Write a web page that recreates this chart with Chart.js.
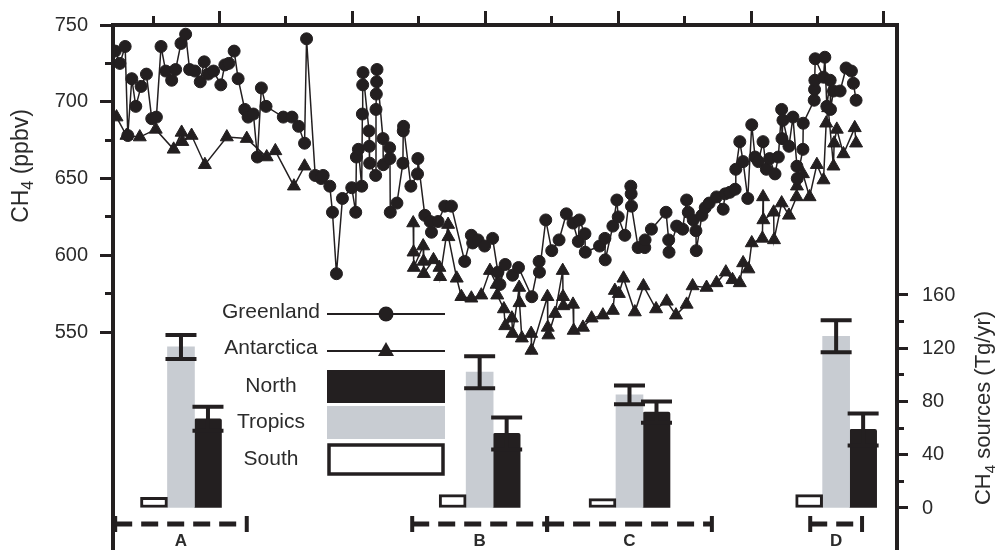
<!DOCTYPE html>
<html lang="en">
<head>
<meta charset="UTF-8">
<title>Holocene CH4</title>
<script src="https://cdn.jsdelivr.net/npm/chart.js"></script>
<style>
  html, body { margin: 0; padding: 0; background: #fff; }
</style>
</head>
<body>
<canvas id="grafico" width="999" height="550"></canvas>
<script>
// Greenland ice core record: age (kyr BP) and CH4 (ppbv)
const greenlandAge = [11.57, 11.50, 11.42, 11.38, 11.32, 11.26, 11.18, 11.10, 11.02, 10.95,
  10.88, 10.81, 10.72, 10.66, 10.58, 10.51, 10.45, 10.37, 10.29, 10.23,
  10.17, 10.09, 9.98, 9.92, 9.86, 9.78, 9.72, 9.62, 9.57, 9.49,
  9.43, 9.37, 9.30, 9.04, 8.91, 8.81, 8.72, 8.69, 8.56, 8.47,
  8.44, 8.34, 8.30, 8.24, 8.15, 8.01, 7.95, 7.94, 7.91, 7.86,
  7.85, 7.845, 7.84, 7.75, 7.745, 7.74, 7.65, 7.645, 7.64, 7.635,
  7.63, 7.54, 7.535, 7.44, 7.435, 7.43, 7.33, 7.24, 7.235, 7.23,
  7.12, 7.02, 7.015, 6.91, 6.83, 6.81, 6.71, 6.61, 6.51, 6.31,
  6.21, 6.19, 6.11, 6.01, 5.89, 5.81, 5.78, 5.70, 5.59, 5.50,
  5.30, 5.19, 5.185, 5.09, 5.00, 4.89, 4.78, 4.68, 4.60, 4.585,
  4.50, 4.495, 4.28, 4.20, 4.195, 4.08, 4.02, 4.00, 3.90, 3.81,
  3.805, 3.80, 3.70, 3.60, 3.595, 3.50, 3.28, 3.24, 3.235, 3.12,
  3.03, 2.97, 2.945, 2.87, 2.83, 2.825, 2.74, 2.69, 2.63, 2.52,
  2.42, 2.39, 2.32, 2.24, 2.23, 2.17, 2.12, 2.05, 1.99, 1.94,
  1.89, 1.82, 1.77, 1.72, 1.64, 1.59, 1.54, 1.535, 1.52, 1.43,
  1.37, 1.31, 1.305, 1.22, 1.215, 1.05, 1.045, 1.04, 1.035, 0.91,
  0.89, 0.86, 0.81, 0.805, 0.76, 0.66, 0.57, 0.49, 0.46, 0.42];
const greenlandCH4 = [733, 725, 736, 678, 715, 697, 710, 718, 689, 690,
  736, 720, 714, 721, 738, 744, 721, 720, 713, 726,
  718, 720, 711, 724, 725, 733, 715, 695, 690, 692,
  664, 709, 697, 690, 690, 684, 673, 741, 652, 650,
  652, 645, 628, 588, 637, 644, 628, 664, 669, 645,
  692, 711, 719, 681, 671, 660, 652, 695, 705, 713,
  721, 676, 659, 670, 663, 628, 634, 660, 681, 684,
  645, 653, 663, 626, 622, 615, 622, 632, 632, 596,
  613, 608, 610, 606, 611, 589, 581, 594, 587, 592,
  573, 596, 589, 623, 603, 610, 627, 621, 609, 623,
  614, 602, 606, 611, 597, 619, 636, 625, 613, 645,
  640, 632, 605, 605, 610, 617, 628, 610, 602, 619,
  617, 636, 628, 623, 616, 603, 626, 631, 634, 638,
  630, 640, 641, 643, 656, 674, 661, 637, 685, 664,
  661, 674, 656, 663, 653, 664, 695, 676, 688, 671,
  690, 658, 650, 669, 686, 701, 708, 714, 728, 716,
  729, 697, 714, 695, 707, 707, 722, 720, 712, 701];

// Antarctic ice core record (null = gap in the record)
const antarcticaAge = [11.55, 11.40, 11.20, 10.96, 10.69, 10.57, 10.56, 10.42, 10.22, 9.89,
  9.59, 9.29, 9.16, 8.88, 8.72, 8.00, 7.085, 7.08, 7.075, 6.935,
  6.93, 6.925, 6.78, 6.69, 6.68, 6.56, 6.555, 6.43, 6.36, 6.21,
  6.06, 5.93, 5.83, 5.82, 5.72, 5.70, 5.60, 5.59, 5.49, 5.485,
  5.45, 5.31, 5.305, 5.065, 5.06, 5.05, 4.95, 4.835, 4.83, 4.825,
  4.68, 4.67, 4.53, 4.40, 4.23, 4.08, 4.05, 3.99, 3.92, 3.75,
  3.62, 3.43, 3.27, 3.13, 2.97, 2.88, 2.67, 2.52, 2.38, 2.28,
  2.17, 2.12, 2.04, 1.99, 1.83, 1.82, 1.815, 1.66, 1.655, 1.54,
  1.43, 1.315, 1.31, 1.22, 1.12, 1.01, 0.91, 0.87, 0.84, 0.76,
  0.75, 0.71, 0.61, 0.44, 0.42];
const antarcticaCH4 = [690, 678, 677, 682, 669, 680, 674, 678, 659, 677,
  676, 664, 668, 645, 658, null, 621, 602, 592, 606,
  596, 588, 597, 592, 586, 620, 612, 585, 573, 572,
  574, 590, 581, 574, 565, 554, 559, 549, 579, 569,
  546, 549, 538, 573, 553, 548, 562, 590, 573, 567,
  568, 551, 553, 559, 561, 564, 577, 575, 585, 563,
  580, 565, 570, 561, 568, 580, 579, 582, 589, 584,
  582, 595, 591, 608, 611, 638, 623, 628, 610, 634,
  626, 638, 645, 653, 638, 659, 649, 686, 696, 658,
  673, 682, 666, 683, 673];

// Source budget intervals (kyr BP) and emissions (Tg/yr)
const intervalNames = ['A', 'B', 'C', 'D'];
const intervalStart = [11.57, 7.10, 5.07, 1.11];
const intervalEnd = [9.59, 5.07, 2.59, 0.33];
const southSource = [8, 10, 7, 10];
const tropicsSource = [121, 102, 85, 129];
const tropicsError = [9, 12, 7, 12];
const northSource = [67, 56, 72, 59];
const northError = [9, 12, 8, 12];

// Axis ticks
const ageTicks = [0, 1, 2, 3, 4, 5, 6, 7, 8, 9, 10, 11];
const ch4Ticks = [550, 575, 600, 625, 650, 675, 700, 725, 750];
const sourceTicks = [0, 20, 40, 60, 80, 100, 120, 140, 160];

const ink = '#231f20';
const grey = '#c8ccd2';
const textColor = '#2b2b2b';
const family = '"Liberation Sans", Arial, Helvetica, sans-serif';
const intervalLevel = -12;

const intervalMid = intervalStart.map((s, i) => (s + intervalEnd[i]) / 2);
const pairs = (xs, ys) => xs.map((x, i) => ({x: x, y: ys[i]}));

// error bars on the source bars
const errorBars = {
  id: 'errorBars',
  afterDatasetsDraw(chart) {
    const ctx = chart.ctx;
    const y2 = chart.scales.y2;
    chart.data.datasets.forEach((ds, i) => {
      if (!ds.errors) return;
      chart.getDatasetMeta(i).data.forEach((bar, j) => {
        const v = ds.data[j].y;
        const hi = y2.getPixelForValue(v + ds.errors[j]);
        const lo = y2.getPixelForValue(v - ds.errors[j]);
        const half = bar.width / 2 + 2;
        ctx.save();
        ctx.strokeStyle = ink;
        ctx.lineWidth = 4;
        ctx.beginPath();
        ctx.moveTo(bar.x, hi); ctx.lineTo(bar.x, lo);
        ctx.moveTo(bar.x - half, hi); ctx.lineTo(bar.x + half, hi);
        ctx.moveTo(bar.x - half, lo); ctx.lineTo(bar.x + half, lo);
        ctx.stroke();
        ctx.restore();
      });
    });
  }
};

// legend, interval letters and axis titles
function subTitle(ctx, cx, cy, main, sub, rest, size) {
  ctx.save();
  ctx.translate(cx, cy);
  ctx.rotate(-Math.PI / 2);
  ctx.fillStyle = textColor;
  ctx.textBaseline = 'middle';
  ctx.textAlign = 'left';
  ctx.font = size + 'px ' + family;
  const w1 = ctx.measureText(main).width;
  const w3 = ctx.measureText(rest).width;
  ctx.font = Math.round(size * 0.7) + 'px ' + family;
  const w2 = ctx.measureText(sub).width;
  let x = -(w1 + w2 + w3) / 2;
  ctx.font = size + 'px ' + family;
  ctx.fillText(main, x, 0);
  x += w1;
  ctx.font = Math.round(size * 0.7) + 'px ' + family;
  ctx.fillText(sub, x, size * 0.3);
  x += w2;
  ctx.font = size + 'px ' + family;
  ctx.fillText(rest, x, 0);
  ctx.restore();
}

const decorations = {
  id: 'decorations',
  afterDraw(chart) {
    const ctx = chart.ctx;
    const xs = chart.scales.x;
    ctx.save();

    // interval letters
    ctx.fillStyle = textColor;
    ctx.font = 'bold 17px ' + family;
    ctx.textAlign = 'center';
    ctx.textBaseline = 'middle';
    intervalNames.forEach((n, i) => ctx.fillText(n, xs.getPixelForValue(intervalMid[i]), 541));

    // legend
    const cx = 271, x0 = 327, x1 = 445, mx = 386;
    ctx.font = '21px ' + family;
    const names = chart.data.datasets.map(d => d.label);
    ctx.fillText(names[0], cx, 312);
    ctx.fillText(names[1], cx, 348);
    ctx.fillText(names[4], cx, 386);
    ctx.fillText(names[3], cx, 422);
    ctx.fillText(names[2], cx, 459);

    ctx.strokeStyle = ink;
    ctx.fillStyle = ink;
    ctx.lineWidth = 2;
    ctx.beginPath();
    ctx.moveTo(x0, 314); ctx.lineTo(x1, 314);
    ctx.moveTo(x0, 351); ctx.lineTo(x1, 351);
    ctx.stroke();
    ctx.beginPath();
    ctx.arc(mx, 314, 7.5, 0, Math.PI * 2);
    ctx.fill();
    ctx.beginPath();
    ctx.moveTo(mx, 342); ctx.lineTo(mx + 8, 356); ctx.lineTo(mx - 8, 356);
    ctx.closePath();
    ctx.fill();

    ctx.fillRect(x0, 370, x1 - x0, 33);
    ctx.fillStyle = grey;
    ctx.fillRect(x0, 406, x1 - x0, 33);
    ctx.lineWidth = 3.5;
    ctx.strokeRect(x0 + 2, 445, x1 - x0 - 4, 29);
    ctx.restore();

    subTitle(ctx, 22, 166, 'CH', '4', ' (ppbv)', 23);
    subTitle(ctx, 984, 408, 'CH', '4', ' sources (Tg/yr)', 22);
  }
};

const datasets = [
  {
    type: 'line', label: 'Greenland', data: pairs(greenlandAge, greenlandCH4),
    yAxisID: 'y', borderColor: ink, borderWidth: 1.5,
    pointStyle: 'circle', pointRadius: 6, pointBorderWidth: 1,
    pointBackgroundColor: ink, pointBorderColor: ink, order: 1
  },
  {
    type: 'line', label: 'Antarctica', data: pairs(antarcticaAge, antarcticaCH4),
    yAxisID: 'y', borderColor: ink, borderWidth: 1.5, spanGaps: false,
    pointStyle: 'triangle', pointRadius: 7.5, pointBorderWidth: 1,
    pointBackgroundColor: ink, pointBorderColor: ink, order: 2
  },
  {
    type: 'bar', label: 'South', data: pairs(intervalMid, southSource),
    yAxisID: 'y2', backgroundColor: '#fff', borderColor: ink, borderWidth: 3,
    borderSkipped: false, barThickness: 27, order: 5
  },
  {
    type: 'bar', label: 'Tropics', data: pairs(intervalMid, tropicsSource), errors: tropicsError,
    yAxisID: 'y2', backgroundColor: grey, borderWidth: 0, barThickness: 27, order: 5
  },
  {
    type: 'bar', label: 'North', data: pairs(intervalMid, northSource), errors: northError,
    yAxisID: 'y2', backgroundColor: ink, borderWidth: 0, borderRadius: 2, barThickness: 27, order: 5
  }
];

intervalNames.forEach((n, i) => {
  datasets.push({
    type: 'line', label: 'Interval ' + n,
    data: [{x: intervalStart[i], y: intervalLevel}, {x: intervalEnd[i], y: intervalLevel}],
    yAxisID: 'y2', borderColor: ink, borderWidth: 5, borderDash: [17, 9],
    pointStyle: 'line', rotation: 90, pointRadius: 8, pointBorderWidth: 4,
    pointBorderColor: ink, order: 3
  });
});

const tickFont = {size: 20, family: family};
const noPad = s => { s.paddingTop = 0; s.paddingBottom = 0; s.paddingLeft = 0; s.paddingRight = 0; };

new Chart(document.getElementById('grafico').getContext('2d'), {
  type: 'line',
  data: {datasets: datasets},
  options: {
    responsive: false,
    animation: false,
    layout: {padding: 0, autoPadding: false},
    plugins: {legend: {display: false}, tooltip: {enabled: false}},
    scales: {
      x: {
        type: 'linear', position: 'top', reverse: true, min: -0.196, max: 11.603,
        offset: false,
        afterFit: s => { s.height = 25; noPad(s); },
        afterBuildTicks: s => { s.ticks = ageTicks.map(v => ({value: v})); },
        ticks: {display: false},
        grid: {
          offset: false, drawOnChartArea: false, tickLength: 14, tickWidth: 3, tickColor: ink,
          tickBorderDash: c => (c.tick && c.tick.value % 2) ? [0, 5, 10, 40] : []
        },
        border: {display: true, width: 4, color: ink}
      },
      y: {
        type: 'linear', position: 'left', min: 408, max: 750,
        afterFit: s => { s.width = 113; noPad(s); },
        afterBuildTicks: s => { s.ticks = ch4Ticks.map(v => ({value: v})); },
        ticks: {color: textColor, font: tickFont, padding: 12,
          callback: v => (v % 50 === 0 ? v : '')},
        grid: {
          drawOnChartArea: false, tickLength: 13, tickWidth: 3, tickColor: ink,
          tickBorderDash: c => (c.tick && c.tick.value % 50) ? [0, 5, 10, 40] : []
        },
        border: {display: true, width: 4, color: ink}
      },
      y2: {
        type: 'linear', position: 'right', min: -31.55, max: 362.8,
        afterFit: s => { s.width = 102; noPad(s); },
        afterBuildTicks: s => { s.ticks = sourceTicks.map(v => ({value: v})); },
        ticks: {color: textColor, font: tickFont, padding: 14,
          callback: v => (v % 40 === 0 ? v : '')},
        grid: {
          drawOnChartArea: false, tickLength: 11, tickWidth: 3, tickColor: ink,
          tickBorderDash: c => (c.tick && c.tick.value % 40) ? [5, 40] : []
        },
        border: {display: true, width: 4, color: ink}
      }
    }
  },
  plugins: [errorBars, decorations]
});
</script>
</body>
</html>
